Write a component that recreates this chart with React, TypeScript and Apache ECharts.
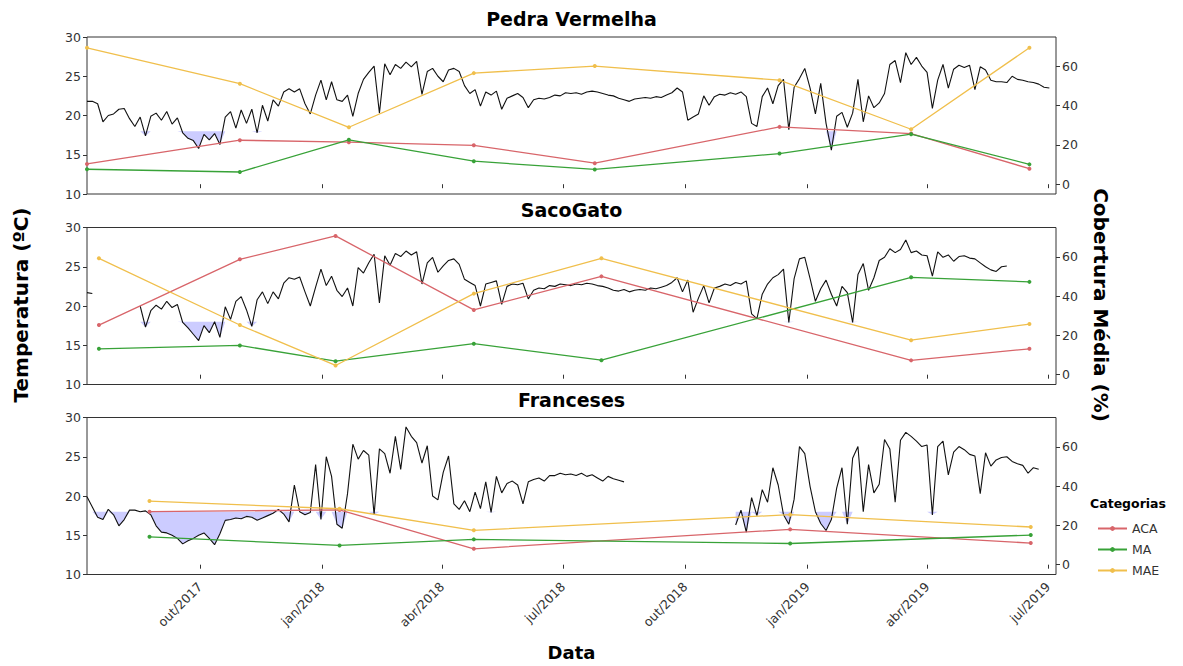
import React, { useEffect, useRef } from "react";
import * as echarts from "echarts";

// ---------- data ----------
// temperature readings, one value every 4 days from 2017-07-08
const tempStartDate = "2017-07-08";
const tempStepDays = 4;

const pedraTemp: (number | null)[] = [
  21.8, 21.8, 21.5, 19.2, 20.0, 20.2, 20.8, 20.9, 19.6, 18.6,
  19.8, 17.4, 19.9, 20.3, 19.4, 20.5, 18.9, 19.7, 17.8, 17.1,
  16.8, 15.8, 17.6, 16.9, 17.7, 16.3, 19.8, 20.5, 18.4, 20.7,
  19.0, 20.8, 17.8, 21.3, 19.3, 22.0, 21.2, 23.0, 23.4, 23.0,
  23.4, 21.5, 20.2, 22.6, 24.5, 22.0, 24.3, 22.0, 21.8, 22.6,
  19.9, 22.8, 24.6, 25.5, 26.3, 20.3, 26.6, 25.2, 26.5, 26.0,
  26.8, 26.2, 26.9, 22.7, 25.6, 26.0, 25.0, 24.3, 25.8, 26.0,
  25.6, 23.8, 22.8, 23.3, 21.2, 23.0, 22.6, 23.1, 20.8, 22.2,
  22.5, 22.8, 22.3, 21.0, 22.0, 22.2, 22.1, 22.3, 22.6, 22.5,
  22.9, 22.8, 22.9, 22.7, 23.0, 23.1, 23.0, 22.8, 22.6, 22.5,
  22.2, 22.0, 21.8, 22.1, 22.2, 22.3, 22.2, 22.4, 22.3, 22.6,
  22.9, 23.5, 23.0, 19.4, 19.8, 20.2, 22.5, 21.3, 22.4, 22.7,
  22.6, 22.9, 22.7, 23.0, 22.4, 19.0, 18.6, 22.4, 23.5, 21.5,
  23.8, 24.6, 18.2, 23.6, 24.7, 26.0, 23.5, 20.2, 24.1, 19.0,
  15.6, 19.9, 20.4, 18.5, 20.3, 24.6, 19.2, 22.5, 21.0, 21.6,
  22.8, 26.5, 27.0, 24.2, 28.0, 26.5, 27.4, 26.3, 25.5, 20.9,
  24.5, 26.5, 23.5, 25.9, 26.4, 26.1, 26.4, 23.3, 26.2, 25.8,
  24.5, 24.3, 24.3, 24.2, 25.0, 24.6, 24.5, 24.3, 24.2, 24.0,
  23.6, 23.5,
];

const sacoTemp: (number | null)[] = [
  21.7, 21.6, null, null, null, null, null, null, null, null,
  20.0, 17.3, 19.4, 20.1, 19.6, 20.6, 19.8, 20.2, 17.9, 17.2,
  16.4, 15.6, 17.5, 16.6, 18.0, 16.0, 19.9, 18.3, 20.6, 21.2,
  19.5, 17.4, 20.8, 21.8, 20.3, 21.8, 20.9, 22.9, 23.6, 23.4,
  23.7, 21.8, 20.0, 22.4, 24.7, 22.6, 23.8, 22.0, 21.2, 22.3,
  20.0, 24.9, 24.2, 25.5, 26.6, 20.4, 26.4, 25.2, 26.7, 26.3,
  27.0, 26.5, 26.9, 22.8, 25.5, 26.2, 24.3, 25.1, 25.8, 26.0,
  25.3, 23.4, 23.0, 22.6, 20.0, 22.8, 23.0, 23.2, 20.2, 22.5,
  22.8, 22.7, 22.9, 20.9, 22.0, 22.3, 22.2, 22.6, 22.5, 22.8,
  22.7, 22.6, 22.8, 22.7, 22.9, 22.8, 22.6, 22.5, 22.3, 22.0,
  21.9, 22.1, 21.8, 22.0, 22.1, 22.0, 22.3, 22.2, 22.4, 22.6,
  23.0, 23.6, 21.8, 23.3, 19.2, 21.0, 22.6, 20.4, 22.3, 22.5,
  22.8, 22.6, 23.0, 22.8, 23.2, 19.0, 18.4, 21.5, 22.8, 23.6,
  24.0, 24.7, 17.9, 23.5, 26.0, 26.2, 23.5, 20.6, 22.2, 23.3,
  21.5, 20.0, 22.5, 21.7, 17.9, 24.0, 25.4, 22.0, 23.6, 25.8,
  26.2, 27.3, 26.8, 27.2, 28.4, 26.8, 27.0, 26.5, 26.4, 23.8,
  26.9, 26.2, 26.5, 25.7, 26.3, 26.4, 26.1, 26.0, 25.5, 25.0,
  24.6, 24.4, 25.0, 25.1, null, null, null, null, null, null,
  null, null,
];

const francesesTemp: (number | null)[] = [
  19.9, 18.6, 17.3, 17.0, 18.3, 17.6, 16.2, 17.0, 18.2, 18.2,
  18.0, 18.1, 17.6, 16.2, 15.4, 15.3, 15.0, 14.6, 13.9, 14.3,
  14.6, 15.0, 15.3, 14.6, 13.8, 15.2, 16.9, 17.0, 17.2, 17.1,
  17.4, 17.3, 16.9, 17.2, 17.5, 17.8, 18.3, 17.7, 16.7, 21.4,
  18.0, 17.6, 17.9, 24.0, 17.0, 25.0, 22.5, 16.4, 15.9, 20.3,
  26.6, 24.7, 25.8, 25.2, 17.6, 26.0, 25.4, 22.9, 27.6, 23.4,
  28.8, 27.6, 26.8, 24.2, 26.4, 20.0, 19.5, 23.0, 25.1, 19.0,
  18.3, 19.4, 18.0, 20.5, 18.4, 21.8, 17.9, 22.5, 20.4, 21.6,
  21.9, 21.4, 19.0, 21.8, 22.1, 22.3, 21.9, 22.6, 22.6, 22.9,
  22.7, 22.8, 22.6, 22.9, 22.5, 22.7, 22.3, 21.9, 22.5, 22.2,
  22.0, 21.8, null, null, null, null, null, null, null, null,
  null, null, null, null, null, null, null, null, null, null,
  null, null, 16.3, 18.2, 15.4, 19.8, 17.5, 20.8, 19.2, 23.6,
  21.4, 17.6, 16.4, 19.6, 26.3, 25.4, 21.2, 18.0, 16.5, 15.6,
  17.0, 21.0, 23.6, 16.4, 24.8, 26.3, 18.0, 24.0, 20.4, 21.5,
  27.2, 26.0, 19.2, 27.1, 28.1, 27.6, 27.0, 26.3, 26.5, 17.6,
  26.3, 27.0, 22.7, 25.6, 26.3, 25.9, 25.3, 25.1, 20.3, 25.5,
  23.8, 24.6, 24.9, 25.0, 24.4, 24.1, 23.9, 22.9, 23.6, 23.4,
  null, null,
];

const coldThreshold = 18;

// mean cover (%) per category, per survey date
const pedraDates = ["2017-07-08", "2017-10-31", "2018-01-21", "2018-04-25", "2018-07-25", "2018-12-11", "2019-03-20", "2019-06-17"];
const pedraACA = [10.3, 22.4, 21.4, 19.8, 10.7, 29.2, 25.8, 7.9];
const pedraMA = [7.6, 6.2, 22.6, 11.7, 7.5, 15.6, 25.5, 10.1];
const pedraMAE = [69.5, 51.2, 29.0, 56.6, 60.2, 53.0, 28.0, 69.5];

const sacoDates = ["2017-07-17", "2017-10-31", "2018-01-11", "2018-04-25", "2018-07-30", "2019-03-20", "2019-06-17"];
const sacoACA = [25.3, 58.8, 70.7, 33.0, 50.1, 7.3, 13.2];
const sacoMA = [13.2, 14.9, 6.9, 15.8, 7.4, 49.6, 47.3];
const sacoMAE = [59.3, 25.3, 4.7, 41.3, 59.3, 17.6, 25.8];

const francesesDates = ["2017-08-24", "2018-01-14", "2018-04-25", "2018-12-19", "2019-06-18"];
const francesesACA = [27.0, 27.9, 8.1, 18.0, 11.0];
const francesesMA = [14.2, 9.8, 12.9, 10.8, 15.1];
const francesesMAE = [32.4, 28.5, 17.5, 25.5, 19.2];

const panelTitles = ["Pedra Vermelha", "SacoGato", "Franceses"];
const categoryNames = ["ACA", "MA", "MAE"];
const categoryColors = ["#d8656a", "#38a238", "#f0bf4c"];

const tickDates = ["2017-10-01", "2018-01-01", "2018-04-01", "2018-07-01", "2018-10-01", "2019-01-01", "2019-04-01", "2019-07-01"];
const monthAbbr = ["jan", "fev", "mar", "abr", "mai", "jun", "jul", "ago", "set", "out", "nov", "dez"];
const tempTicks = { min: 10, max: 30, interval: 5 };
const coverRange = { min: -5, max: 75 };
const coverTicks = [0, 20, 40, 60];
const xRange = { min: "2017-07-08", max: "2019-07-07" };

// ---------- chart ----------
const FONT = "DejaVu Sans";
const DAY_MS = 86400000;
const TICK_COLOR = "#333333";

const panels = [
  { temp: pedraTemp, dates: pedraDates, cats: [pedraACA, pedraMA, pedraMAE] },
  { temp: sacoTemp, dates: sacoDates, cats: [sacoACA, sacoMA, sacoMAE] },
  { temp: francesesTemp, dates: francesesDates, cats: [francesesACA, francesesMA, francesesMAE] },
];

const GRID_TOPS = [37, 227.5, 417.5];
const GRID_H = 157;
const GRID_LEFT = 87;
const GRID_RIGHT = 127;

function buildOption() {
  const t0 = Date.parse(tempStartDate);
  const tickTimes = tickDates.map((d) => Date.parse(d));
  const xMin = Date.parse(xRange.min);
  const xMax = Date.parse(xRange.max);

  const grid: any[] = [];
  const xAxis: any[] = [];
  const yAxis: any[] = [];
  const series: any[] = [];

  panels.forEach((p, k) => {
    grid.push({
      left: GRID_LEFT,
      right: GRID_RIGHT,
      top: GRID_TOPS[k],
      height: GRID_H,
      show: true,
      borderColor: "#333",
      borderWidth: 1,
      backgroundColor: "transparent",
      z: 0,
    });
    xAxis.push({
      type: "value",
      gridIndex: k,
      min: xMin,
      max: xMax,
      splitLine: { show: false },
      axisLine: { show: false },
      axisTick: { show: true, customValues: tickTimes, length: 4, lineStyle: { color: TICK_COLOR } },
      axisLabel: {
        show: k === 2,
        customValues: tickTimes,
        rotate: 45,
        margin: 10,
        fontSize: 12.5,
        color: TICK_COLOR,
        fontFamily: FONT,
        formatter: (v: number) => {
          const d = new Date(v);
          return "{t|" + monthAbbr[d.getUTCMonth()] + "/" + d.getUTCFullYear() + "}";
        },
        rich: {
          t: { color: TICK_COLOR, fontSize: 12.5, fontFamily: FONT, fontWeight: "normal" },
        },
      },
    });
    yAxis.push({
      type: "value",
      gridIndex: k,
      position: "left",
      min: tempTicks.min,
      max: tempTicks.max,
      interval: tempTicks.interval,
      splitLine: { show: false },
      axisLine: { show: false },
      axisTick: { show: true, length: 4, lineStyle: { color: TICK_COLOR } },
      axisLabel: { fontSize: 12.5, color: TICK_COLOR, fontFamily: FONT, margin: 6 },
    });
    yAxis.push({
      type: "value",
      gridIndex: k,
      position: "right",
      min: coverRange.min,
      max: coverRange.max,
      splitLine: { show: false },
      axisLine: { show: false },
      axisTick: { show: true, length: 4, customValues: coverTicks, lineStyle: { color: TICK_COLOR } },
      axisLabel: { customValues: coverTicks, fontSize: 12.5, color: TICK_COLOR, fontFamily: FONT, margin: 6 },
    });

    const times = p.temp.map((_, i) => t0 + i * tempStepDays * DAY_MS);

    // shaded area between the temperature and the cold threshold, where it is colder
    series.push({
      type: "line",
      xAxisIndex: k,
      yAxisIndex: 2 * k,
      data: p.temp.map((t, i) => [times[i], t == null ? null : Math.min(t, coldThreshold)]),
      symbol: "none",
      lineStyle: { width: 0, opacity: 0 },
      areaStyle: { color: "#ccccff", opacity: 1, origin: coldThreshold },
      silent: true,
      z: 2,
    });
    series.push({
      type: "line",
      name: "temp" + k,
      xAxisIndex: k,
      yAxisIndex: 2 * k,
      data: p.temp.map((t, i) => [times[i], t]),
      symbol: "none",
      lineStyle: { color: "#111", width: 1.1 },
      z: 3,
    });
    categoryNames.forEach((name, c) => {
      series.push({
        type: "line",
        name,
        xAxisIndex: k,
        yAxisIndex: 2 * k + 1,
        data: p.dates.map((d, i) => [Date.parse(d), p.cats[c][i]]),
        symbol: "circle",
        symbolSize: 4,
        itemStyle: { color: categoryColors[c] },
        lineStyle: { color: categoryColors[c], width: 1.3 },
        z: 4,
      });
    });
  });

  const midX = GRID_LEFT + (1183 - GRID_LEFT - GRID_RIGHT) / 2;
  const graphic: any[] = [];
  panelTitles.forEach((t, k) => {
    graphic.push({
      type: "text",
      x: midX,
      y: GRID_TOPS[k] - 18,
      style: { text: t, textAlign: "center", textVerticalAlign: "middle", font: `bold 19px "${FONT}"`, fill: "#000" },
    });
  });
  graphic.push({
    type: "text",
    x: 21,
    y: 305,
    rotation: Math.PI / 2,
    style: { text: "Temperatura (ºC)", textAlign: "center", textVerticalAlign: "middle", font: `bold 20px "${FONT}"`, fill: "#000" },
  });
  graphic.push({
    type: "text",
    x: 1101,
    y: 305,
    rotation: -Math.PI / 2,
    style: { text: "Cobertura Média (%)", textAlign: "center", textVerticalAlign: "middle", font: `bold 20px "${FONT}"`, fill: "#000" },
  });
  graphic.push({
    type: "text",
    x: midX,
    y: 652,
    style: { text: "Data", textAlign: "center", textVerticalAlign: "middle", font: `bold 18px "${FONT}"`, fill: "#000" },
  });
  graphic.push({
    type: "text",
    x: 1128,
    y: 503,
    style: { text: "Categorias", textAlign: "center", textVerticalAlign: "middle", font: `bold 12.5px "${FONT}"`, fill: "#000" },
  });

  return {
    animation: false,
    backgroundColor: "#fff",
    grid,
    xAxis,
    yAxis,
    series,
    graphic,
    legend: {
      data: categoryNames,
      orient: "vertical",
      left: 1092,
      top: 517,
      itemWidth: 29,
      itemHeight: 6,
      itemGap: 8,
      textStyle: { fontSize: 12.5, color: TICK_COLOR, fontFamily: FONT },
      selectedMode: false,
    },
  };
}

export default function App() {
  const ref = useRef<HTMLDivElement>(null);
  useEffect(() => {
    if (!ref.current) return;
    const chart = echarts.init(ref.current, null, { renderer: "svg" });
    chart.setOption(buildOption() as any);
    return () => chart.dispose();
  }, []);
  return (
    <div
      ref={ref}
      style={{ position: "fixed", left: 0, top: 0, width: 1183, height: 666, background: "#fff" }}
    />
  );
}
